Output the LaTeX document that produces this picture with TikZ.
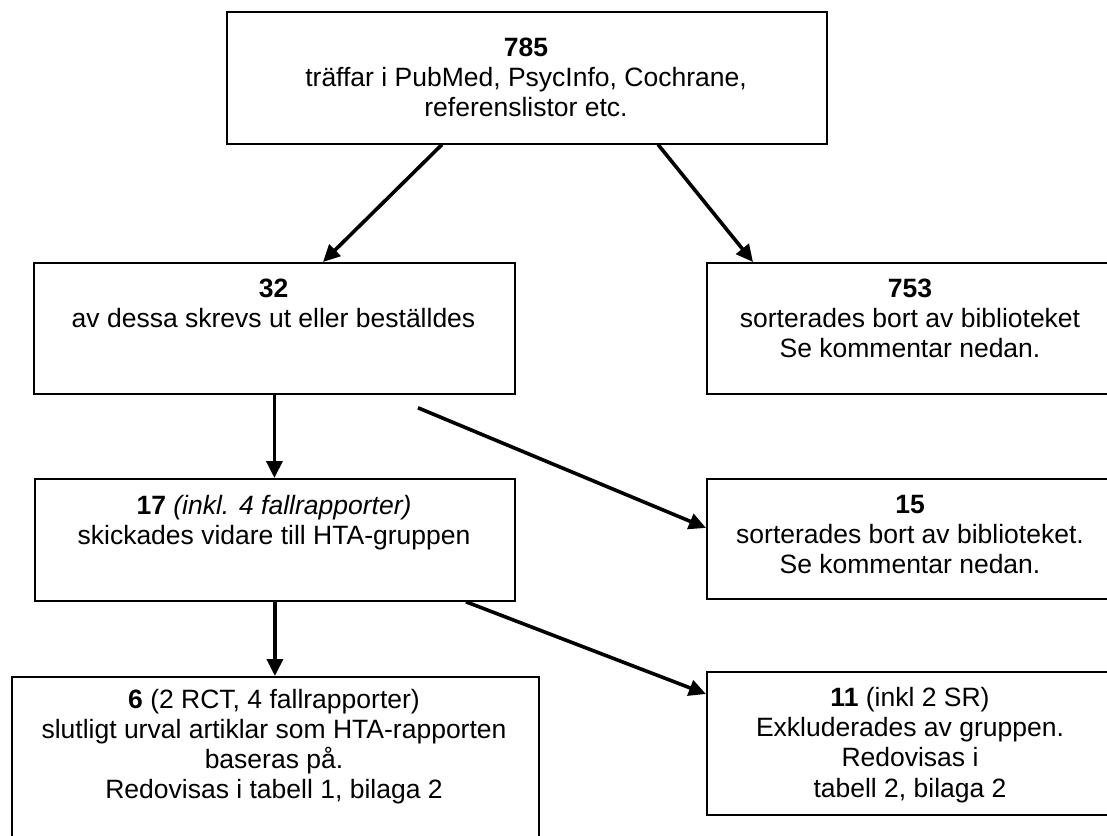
\documentclass[tikz,border=0pt]{standalone}
\usepackage{fontspec}
\setmainfont{Liberation Sans}
\usetikzlibrary{arrows.meta}
\begin{document}
\begin{tikzpicture}[x=1pt,y=-1pt,
  box/.style={draw, line width=1.8pt, rectangle, inner sep=0pt, anchor=north west},
  txt/.style={font=\fontsize{26.5}{30}\selectfont, inner sep=0pt, anchor=base},
  arr/.style={line width=3.6pt, -{Triangle[length=17pt,width=16pt]}}]
\useasboundingbox (0,0) rectangle (1107,835);
\fill[white] (0,0) rectangle (1107,835);
\clip (0,0) rectangle (1107,835);

% boxes
\node[box, minimum width=600pt, minimum height=132pt] (A) at (226,10.7) {};
\node[box, minimum width=481pt, minimum height=131pt] (B) at (33,262) {};
\node[box, minimum width=408pt, minimum height=131pt] (C) at (706,262) {};
\node[box, minimum width=480pt, minimum height=122pt] (D) at (34,478) {};
\node[box, minimum width=408pt, minimum height=120pt] (E) at (706,478) {};
\node[box, minimum width=527pt, minimum height=200pt] (F) at (11,676) {};
\node[box, minimum width=408pt, minimum height=143pt] (G) at (706,671) {};

% texts
\node[txt] (a1) at (526,56) {\textbf{785}};
\node[txt] (a2) at (526,86) {träffar i PubMed, PsycInfo, Cochrane,};
\node[txt] (a3) at (526,116) {referenslistor etc.};

\node[txt] (b1) at (273.5,297) {\textbf{32}};
\node[txt] (b2) at (273.5,327) {av dessa skrevs ut eller beställdes};

\node[txt] (c1) at (910,297) {\textbf{753}};
\node[txt] (c2) at (910,327) {sorterades bort av biblioteket};
\node[txt] (c3) at (910,357) {Se kommentar nedan.};

\node[txt] (d1) at (274,514) {\textbf{17} \textit{(inkl. 4 fallrapporter)}};
\node[txt] (d2) at (274,544) {skickades vidare till HTA-gruppen};

\node[txt] (e1) at (910,513) {\textbf{15}};
\node[txt] (e2) at (910,543) {sorterades bort av biblioteket.};
\node[txt] (e3) at (910,573) {Se kommentar nedan.};

\node[txt] (f1) at (274,708) {\textbf{6} (2 RCT, 4 fallrapporter)};
\node[txt] (f2) at (274,738) {slutligt urval artiklar som HTA-rapporten};
\node[txt] (f3) at (274,768) {baseras på.};
\node[txt] (f4) at (274,798) {Redovisas i tabell 1, bilaga 2};

\node[txt] (g1) at (910,706) {\textbf{11} (inkl 2 SR)};
\node[txt] (g2) at (910,736) {Exkluderades av gruppen.};
\node[txt] (g3) at (910,766) {Redovisas i};
\node[txt] (g4) at (910,797) {tabell 2, bilaga 2};

% connectors
\draw[arr] ([xshift=216pt]A.south west) -- ([xshift=290pt]B.north west);
\draw[arr] ([xshift=432pt]A.south west) -- ([xshift=47pt]C.north west);
\draw[arr] (B.south) -- (B.south |- D.north);
\draw[arr] ([shift={(385pt,-13pt)}]B.south west) -- ([yshift=11pt]E.west);
\draw[arr] (D.south) -- (D.south |- F.north);
\draw[arr] ([xshift=432pt]D.south west) -- ([yshift=-23pt]G.north west);
\end{tikzpicture}
\end{document}
